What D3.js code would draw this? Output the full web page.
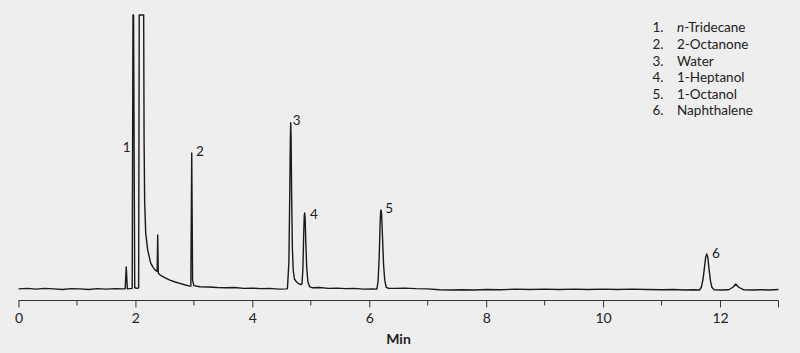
<!DOCTYPE html>
<html>
  <head>
    <title>Chromatogram</title>
    <script src="https://d3js.org/d3.v7.min.js" charset="utf-8"></script>
    <style type="text/css">
      body {
          margin: 0;
          background: #eeeeee;
      }
      text {
          font-family: Lato, "Noto Sans", sans-serif;
          fill: #222;
      }
    </style>
  </head>

  <body>
    <script type="text/javascript">

      // Trace: [minutes, signal in % of full scale]
      var trace = [
        [0.00, 0.4], [0.15, 0.6], [0.30, 0.3], [0.45, 0.6], [0.60, 0.4], [0.75, 0.2], [0.90, 0.5],
        [1.05, 0.4], [1.20, 0.2], [1.35, 0.5], [1.50, 0.3], [1.65, 0.5], [1.80, 0.4],
        [1.825, 0.5], [1.843, 8.4], [1.862, 0.4],
        [1.90, 0.5], [1.945, 0.6], [1.958, 100], [1.968, 100], [1.988, 0.8],
        [2.030, 0.6], [2.055, 0.8], [2.065, 100], [2.141, 100],
        [2.148, 55], [2.158, 32], [2.176, 20.7], [2.21, 14.5], [2.261, 9.8], [2.30, 8.3], [2.335, 7.3],
        [2.372, 6.8], [2.381, 20], [2.391, 6.2], [2.42, 5.5], [2.50, 4.5], [2.59, 3.6], [2.68, 2.9],
        [2.76, 2.4], [2.84, 1.9], [2.93, 1.4],
        [2.948, 1.4], [2.963, 49.8], [2.978, 3.5], [3.00, 1.6],
        [3.10, 1.2], [3.25, 1.1], [3.40, 0.9], [3.55, 0.8], [3.70, 0.9], [3.85, 0.6], [4.00, 0.7],
        [4.15, 0.5], [4.30, 0.6], [4.45, 0.3], [4.58, 0.4],
        [4.60, 0.5], [4.625, 10], [4.640, 35], [4.650, 55], [4.656, 60.8], [4.663, 55], [4.672, 35],
        [4.685, 15], [4.70, 7], [4.72, 4], [4.76, 2.8], [4.80, 2.2], [4.83, 2],
        [4.85, 2.2], [4.865, 8], [4.878, 20], [4.888, 27], [4.895, 28], [4.903, 26], [4.915, 17],
        [4.93, 8], [4.95, 3], [4.98, 1.2], [5.03, 0.8],
        [5.15, 0.9], [5.30, 0.6], [5.45, 0.7], [5.60, 0.5], [5.75, 0.6], [5.90, 0.3], [6.05, 0.4], [6.13, 0.3],
        [6.15, 3], [6.17, 12], [6.185, 24], [6.195, 28.6], [6.201, 29.1], [6.21, 28], [6.225, 20],
        [6.245, 9], [6.265, 3.5], [6.29, 1], [6.33, 0.6],
        [6.45, 0.6], [6.60, 0.7], [6.80, 0.5], [7.00, 0.4], [7.20, 0.1], [7.40, 0.0], [7.60, 0.1],
        [7.80, 0.0], [8.00, 0.2], [8.25, 0.1], [8.50, 0.3], [8.75, 0.2], [9.00, 0.3], [9.25, 0.2], [9.50, 0.3],
        [9.75, 0.2], [10.0, 0.3], [10.25, 0.2], [10.5, 0.3], [10.75, 0.2], [11.0, 0.1], [11.2, 0.2],
        [11.4, 0.0], [11.55, 0.1], [11.65, 0.0],
        [11.68, 1], [11.71, 4], [11.735, 8.5], [11.755, 12], [11.772, 13.1], [11.79, 12], [11.81, 8],
        [11.835, 3.5], [11.86, 1], [11.90, 0.1],
        [12.00, 0.0], [12.15, 0.1], [12.22, 1], [12.268, 2.2], [12.32, 1], [12.40, 0.1],
        [12.55, 0.0], [12.70, 0.1], [12.85, 0.0], [13.00, 0.2]
      ];

      // Peak labels (number, where the label sits in minutes / signal)
      var peakNumbers = ["1", "2", "3", "4", "5", "6"];
      var labelTimes = [1.851, 3.105, 4.76, 5.055, 6.34, 11.93];
      var labelLevels = [52, 50.5, 61.6, 27.6, 29.8, 13.5];

      // Legend
      var compoundNames = ["Tridecane", "2-Octanone", "Water", "1-Heptanol", "1-Octanol", "Naphthalene"];

      // Axis ticks
      var majorTicks = [0, 2, 4, 6, 8, 10, 12];
      var minorTicks = [1, 3, 5, 7, 9, 11, 13];

      // Setup size
      var width = 800;
      var height = 353;
      var svg = d3.select("body")
          .append("svg")
          .attr("width", width)
          .attr("height", height);

      svg.append("rect")
          .attr("width", width)
          .attr("height", height)
          .style("fill", "#eeeeee");

      var x = d3.scaleLinear().domain([0, 13]).range([18.5, 778.5]);
      var y = d3.scaleLinear().domain([0, 100]).range([290, 15]);
      var axisY = 300.5;

      // x axis: major ticks with labels, minor ticks shorter
      var axis = svg.append("g")
          .attr("transform", "translate(0," + axisY + ")")
          .call(d3.axisBottom(x)
              .tickValues(majorTicks)
              .tickSize(7)
              .tickPadding(6)
              .tickFormat(d3.format("d")));

      axis.select(".domain")
          .attr("d", "M" + x(0) + ",0H" + x(13))
          .style("stroke", "#333");
      axis.selectAll(".tick line").style("stroke", "#333");
      axis.selectAll(".tick text")
          .style("font-size", "14px")
          .style("font-family", "Lato, 'Noto Sans', sans-serif")
          .style("fill", "#222");

      axis.selectAll(".minor")
          .data(minorTicks)
          .enter().append("line")
          .attr("class", "minor")
          .attr("x1", function(d) { return x(d); })
          .attr("x2", function(d) { return x(d); })
          .attr("y1", 0)
          .attr("y2", function(d) { return d === 13 ? 7 : 5; })
          .style("stroke", "#333");

      svg.append("text")
          .attr("x", x(6.5))
          .attr("y", 344)
          .attr("text-anchor", "middle")
          .style("font-size", "14px")
          .style("font-weight", "bold")
          .text("Min");

      // The trace
      var line = d3.line()
          .x(function(d) { return x(d[0]); })
          .y(function(d) { return y(d[1]); });

      svg.append("path")
          .datum(trace)
          .attr("d", line)
          .style("fill", "none")
          .style("stroke", "#1a1a1a")
          .style("stroke-width", 1.4)
          .style("stroke-linejoin", "round");

      // Peak numbers
      svg.selectAll(".peak-label")
          .data(peakNumbers)
          .enter().append("text")
          .attr("class", "peak-label")
          .attr("x", function(d, i) { return x(labelTimes[i]); })
          .attr("y", function(d, i) { return y(labelLevels[i]); })
          .attr("text-anchor", "middle")
          .attr("dy", "0.35em")
          .style("font-size", "13.5px")
          .text(function(d) { return d; });

      // Legend
      var legend = svg.append("g");
      var rowY = d3.scalePoint().domain(peakNumbers).range([27.7, 110.7]);

      legend.selectAll(".num")
          .data(peakNumbers)
          .enter().append("text")
          .attr("x", 663.5)
          .attr("y", function(d) { return rowY(d); })
          .attr("dy", "0.35em")
          .attr("text-anchor", "end")
          .style("font-size", "13.5px")
          .text(function(d) { return d + "."; });

      var names = legend.selectAll(".name")
          .data(compoundNames)
          .enter().append("text")
          .attr("x", 677)
          .attr("y", function(d, i) { return rowY(peakNumbers[i]); })
          .attr("dy", "0.35em")
          .style("font-size", "13.5px");

      names.each(function(d, i) {
          var t = d3.select(this);
          if (i === 0) {
            t.append("tspan").style("font-style", "italic").text("n");
            t.append("tspan").text("-" + d);
          } else {
            t.text(d);
          }
      });

    </script>
  </body>

</html>
